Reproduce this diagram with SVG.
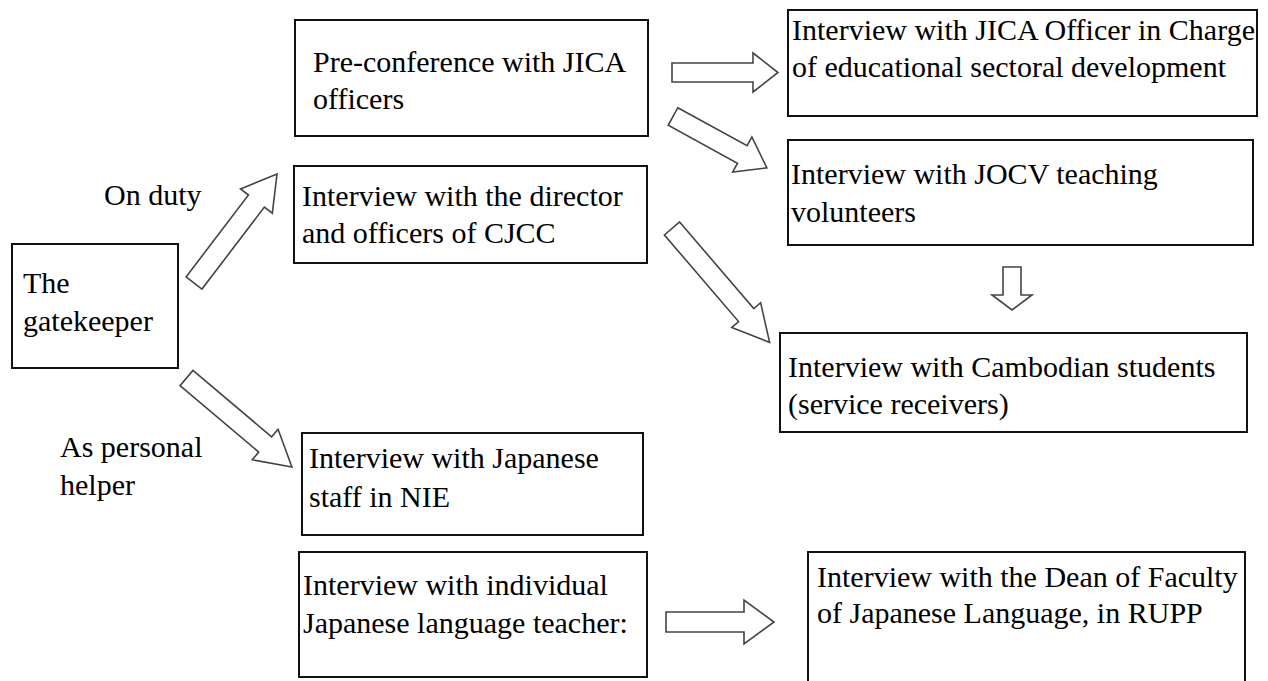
<svg xmlns="http://www.w3.org/2000/svg" width="1268" height="681" viewBox="0 0 1268 681">
<style>
.box{fill:#fff;stroke:#111;stroke-width:2}
.t{font-family:'Liberation Serif','DejaVu Serif',serif;font-size:30px;fill:#000}
.arr{fill:#fff;stroke:#444;stroke-width:1.6;stroke-linejoin:miter}
</style>
<rect x="0" y="0" width="1268" height="681" fill="#fff"/>
<g id="connectors">
<polygon class="arr" transform="translate(194,283) rotate(-52.7)" points="0,-10 103,-10 103,-20 137,0 103,20 103,10 0,10"/>
<polygon class="arr" transform="translate(672,72.5)" points="0,-9.5 81,-9.5 81,-19.5 106,0 81,19.5 81,9.5 0,9.5"/>
<polygon class="arr" transform="translate(673,116.5) rotate(28.7)" points="0,-10 79,-10 79,-20 107,0 79,20 79,10 0,10"/>
<polygon class="arr" transform="translate(672,228.5) rotate(49.4)" points="0,-10 114,-10 114,-19 150,0 114,19 114,10 0,10"/>
<polygon class="arr" transform="translate(1012,267) rotate(90)" points="0,-9 28,-9 28,-20 43,0 28,20 28,9 0,9"/>
<polygon class="arr" transform="translate(186.5,378) rotate(40.2)" points="0,-10 103,-10 103,-20 138,0 103,20 103,10 0,10"/>
<polygon class="arr" transform="translate(666,622)" points="0,-10 78,-10 78,-22 108,0 78,22 78,10 0,10"/>
</g>
<g id="label-onduty"><text class="t" x="104" y="205">On duty</text></g>
<g id="label-helper"><text class="t" x="60" y="457">As personal</text><text class="t" x="60" y="495">helper</text></g>
<g id="n-gatekeeper">
<rect class="box" x="12" y="244" width="166" height="124"/>
<text class="t" x="23" y="293">The</text>
<text class="t" x="23" y="331">gatekeeper</text>
</g>
<g id="n-preconf">
<rect class="box" x="295" y="20" width="353" height="116"/>
<text class="t" x="313" y="72">Pre-conference with JICA</text>
<text class="t" x="313" y="109">officers</text>
</g>
<g id="n-cjcc">
<rect class="box" x="294" y="166" width="353" height="97"/>
<text class="t" x="302" y="206">Interview with the director</text>
<text class="t" x="302" y="243">and officers of CJCC</text>
</g>
<g id="n-jica">
<rect class="box" x="788" y="10" width="469" height="106"/>
<text class="t" x="792" y="40">Interview with JICA Officer in Charge</text>
<text class="t" x="792" y="77">of educational sectoral development</text>
</g>
<g id="n-jocv">
<rect class="box" x="788" y="140" width="465" height="105"/>
<text class="t" x="791" y="184">Interview with JOCV teaching</text>
<text class="t" x="791" y="222">volunteers</text>
</g>
<g id="n-cambodian">
<rect class="box" x="780" y="333" width="467" height="99"/>
<text class="t" x="788" y="377">Interview with Cambodian students</text>
<text class="t" x="788" y="414">(service receivers)</text>
</g>
<g id="n-nie">
<rect class="box" x="302" y="433" width="341" height="102"/>
<text class="t" x="309" y="468">Interview with Japanese</text>
<text class="t" x="309" y="507">staff in NIE</text>
</g>
<g id="n-individual">
<rect class="box" x="299" y="552" width="348" height="125"/>
<text class="t" x="303" y="595">Interview with individual</text>
<text class="t" x="303" y="633">Japanese language teacher:</text>
</g>
<g id="n-dean">
<rect class="box" x="808" y="552" width="437" height="140"/>
<text class="t" x="817" y="587">Interview with the Dean of Faculty</text>
<text class="t" x="817" y="623">of Japanese Language, in RUPP</text>
</g>
</svg>
